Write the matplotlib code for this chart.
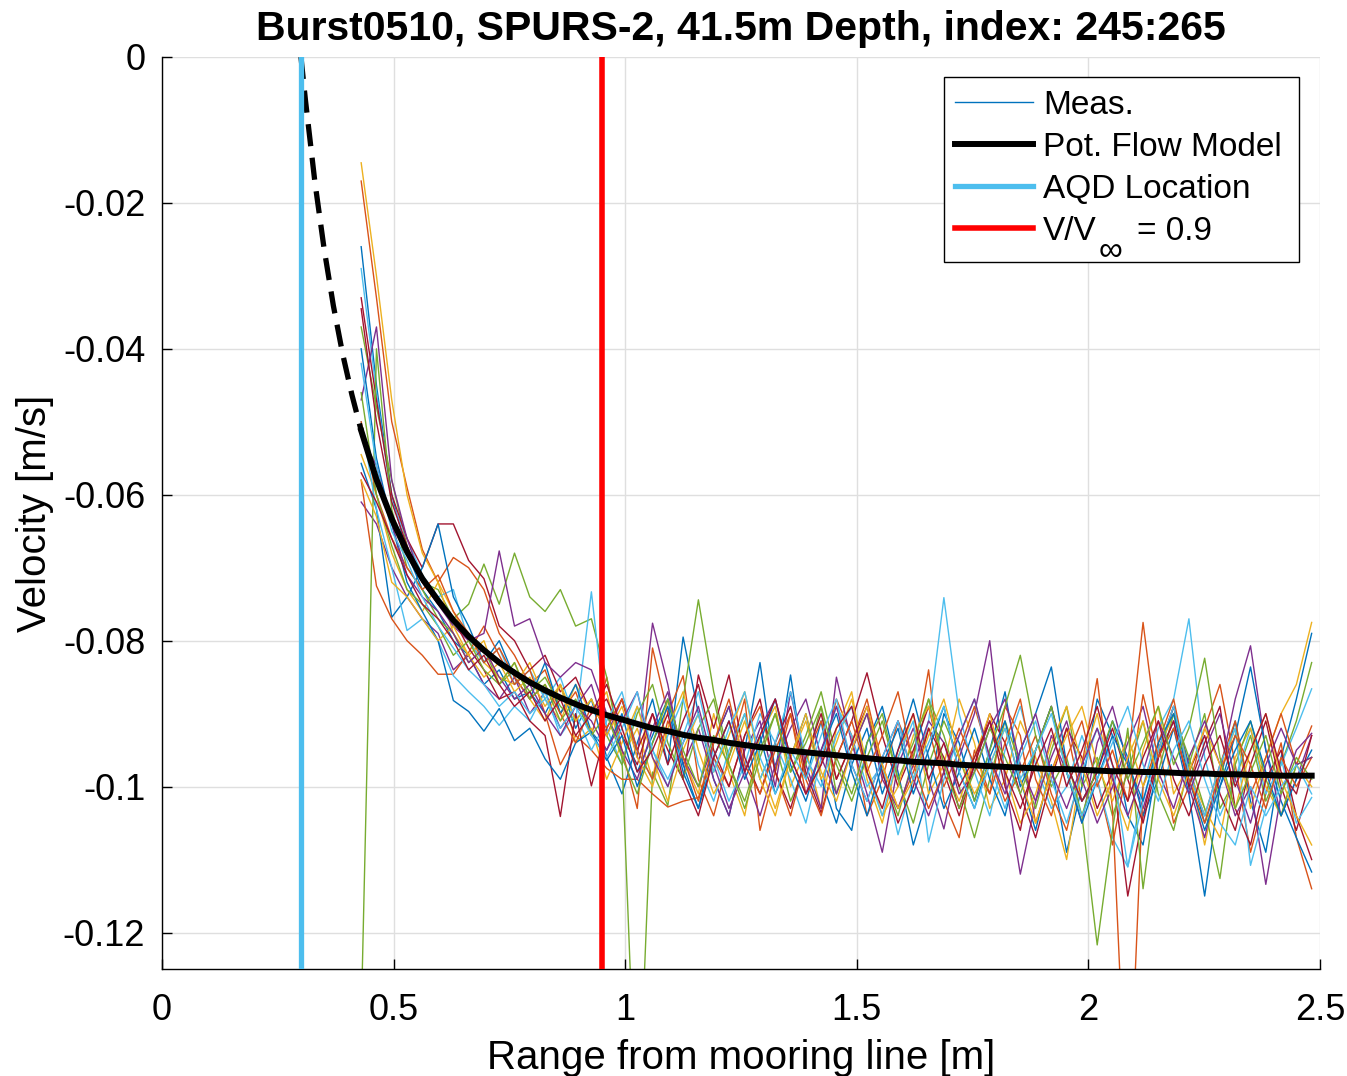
import numpy as np
import matplotlib
matplotlib.use("Agg")
import matplotlib.pyplot as plt
from matplotlib.patches import Rectangle

plt.rcParams["font.family"] = ["Liberation Sans", "DejaVu Sans"]
plt.rcParams["axes.unicode_minus"] = False

TITLE = "Burst0510, SPURS-2, 41.5m Depth, index: 245:265"

# range bins [m]
RANGE_M = [0.430, 0.463, 0.496, 0.529, 0.562, 0.596, 0.629, 0.662, 0.695, 0.728,
           0.761, 0.794, 0.827, 0.860, 0.893, 0.927, 0.960, 0.993, 1.026, 1.059,
           1.092, 1.125, 1.158, 1.191, 1.224, 1.258, 1.291, 1.324, 1.357, 1.390,
           1.423, 1.456, 1.489, 1.522, 1.555, 1.589, 1.622, 1.655, 1.688, 1.721,
           1.754, 1.787, 1.820, 1.853, 1.886, 1.920, 1.953, 1.986, 2.019, 2.052,
           2.085, 2.118, 2.151, 2.184, 2.217, 2.251, 2.284, 2.317, 2.350, 2.383,
           2.416, 2.449, 2.482]

MEAS_245 = [-26, -45, -60, -68, -73, -76, -80, -82, -86, -84,
            -88, -87, -90, -86, -92, -88, -96, -101, -94, -88,
            -97, -79.5, -90, -99, -104, -95, -83, -98, -84.7, -99,
            -91, -103, -106, -94, -89, -98, -108, -101, -90, -94,
            -102, -95, -87, -99, -106, -97, -109, -100, -88, -93,
            -104, -108, -96, -89, -97, -105, -99, -91, -102, -109,
            -96, -88, -79]
MEAS_246 = [-17, -33, -50, -59, -67.5, -72, -68.6, -70, -73, -79,
            -82, -86, -84, -90, -87, -93, -85, -95, -103, -81,
            -90, -84.8, -99, -104, -96, -88, -106, -98, -90, -101,
            -97, -88, -93, -104, -99, -91, -96, -84, -102, -107,
            -95, -101, -89, -93, -105, -98, -92, -102, -99, -108,
            -97, -77.5, -94, -105, -100, -92, -86, -97, -109, -101,
            -94, -107, -114]
MEAS_247 = [-14.5, -30, -47, -60, -68, -72, -76, -80, -83, -85,
            -86, -83, -88, -91, -86, -90, -87, -96, -92, -99,
            -88, -96, -101, -90, -98, -104, -93, -89, -100, -95,
            -103, -92, -87, -99, -105, -96, -90, -101, -97, -88,
            -94, -103, -99, -91, -96, -102, -110, -97, -90, -100,
            -106, -95, -89, -101, -97, -108, -98, -92, -103, -96,
            -90, -86, -77.5]
MEAS_248 = [-61, -64, -70, -74, -77, -79, -84, -82, -86, -88,
            -85, -90, -87, -92, -89, -86, -93, -88, -96, -77.6,
            -86, -97, -92, -99, -104, -95, -91, -100, -87, -97,
            -103, -85, -94, -101, -109, -97, -92, -99, -105.8, -96,
            -90, -80, -99, -112, -102, -93, -98, -105, -94, -89,
            -97, -103, -96, -91, -100, -107, -98, -88, -80.7, -95,
            -104, -99, -93]
MEAS_249 = [-37, -48, -58, -67, -72, -73, -77, -75, -69.5, -75,
            -68, -74, -76, -73, -78, -77, -85, -96, -150, -98,
            -102.6, -88, -74.4, -87, -96, -90, -99, -94, -102, -97,
            -89, -101, -95, -90, -98, -104, -96, -88, -93, -100,
            -107, -99, -91, -97, -103, -95, -89, -100, -96, -104,
            -98, -91, -101, -106, -97, -90, -103, -99, -93, -102,
            -97, -91, -83]
MEAS_250 = [-29, -46, -61, -66, -71, -74, -73, -80, -83, -81,
            -86, -84, -88, -85, -91, -73.3, -92, -97, -89, -95,
            -100, -93, -87, -96, -102, -97, -90, -94, -99, -105,
            -96, -89, -93, -100, -97, -106.6, -99, -91, -74.1, -90,
            -98, -104, -95, -89, -97, -103, -100, -93, -99, -107,
            -111, -100, -92, -88, -77, -96, -104, -99, -92, -101,
            -97, -92, -86.6]
MEAS_251 = [-33, -47, -60, -66, -70, -64, -64, -69, -71.5, -78,
            -80, -84, -82, -87, -85, -90, -88, -93, -97, -90,
            -95, -99, -84.7, -92, -84.7, -96, -101, -94, -89, -98,
            -103.6, -96, -91, -84.4, -93, -100, -95, -89, -98, -104,
            -97, -90, -94, -101, -107, -99, -92, -96, -103, -98,
            -115, -104, -95, -89, -98, -93, -101, -106, -97, -91,
            -100, -106, -98.5]
MEAS_252 = [-55.7, -62, -76.8, -74, -70, -64, -74, -78, -83, -80,
            -85, -88, -83, -90, -86, -92.5, -95, -90, -98, -93,
            -88, -97, -103, -94, -89, -98, -93, -101, -96, -90,
            -99, -105, -97, -92, -101, -95, -88, -96, -103, -98,
            -92, -99, -104, -95, -90, -83.6, -97, -102, -98, -91,
            -96, -104, -99, -92, -101, -115, -100, -93, -83.6, -95,
            -102, -107, -111.7]
MEAS_253 = [-58, -72.5, -77, -80, -82, -84.6, -84.6, -81.6, -78, -82,
            -86, -84, -90, -97, -93, -95, -97.5, -99, -99, -101,
            -102.8, -102, -101.5, -96, -100, -93, -89, -98, -104, -96,
            -91, -99, -94, -88, -97, -103, -98, -92, -100, -95,
            -89, -96, -102, -98, -93, -101, -106, -97, -85.2, -103,
            -150, -100, -94, -88, -98, -104, -97, -91, -101, -96,
            -90, -97, -91.7]
MEAS_254 = [-54.5, -60, -68, -73, -76, -72, -79, -82, -80, -86,
            -83, -88, -91, -86, -94, -92, -99, -94, -89, -96,
            -102, -95, -90, -98, -93, -87, -97, -103, -96, -91,
            -99, -94, -88, -97, -104, -100, -93, -89, -97, -102,
            -96, -90, -98, -105, -101, -94, -89, -97, -104, -99,
            -93, -100, -95, -90, -98, -103, -107, -96, -92, -100,
            -104, -97, -100]
MEAS_255 = [-47, -37, -58, -66, -72, -75, -78, -80, -79, -67.7,
            -78, -77, -83, -85, -83, -84, -90, -95, -99, -92,
            -87, -96, -100, -94, -89, -98, -104, -97, -92, -88,
            -96, -101, -95, -90, -99, -103, -97, -91, -94, -101,
            -98, -92, -88, -97, -102, -96, -91, -99, -105, -100,
            -94, -89, -98, -103, -96, -91, -97, -104, -100, -113.4,
            -101, -95, -92.7]
MEAS_256 = [-132, -40, -62, -70, -73, -77, -79, -83, -81, -86,
            -84, -87, -85, -89, -91, -88, -93, -97, -90, -86,
            -94, -99, -92, -88, -97, -102, -95, -90, -98, -93,
            -87, -96, -101, -94, -90, -99, -105, -97, -91, -96,
            -102, -95, -89, -82, -93, -100, -96, -104, -121.7, -106,
            -92, -114, -98, -90, -96, -103, -112.6, -97, -91, -99,
            -104, -97, -96]
MEAS_257 = [-50, -62, -70, -78.6, -77, -80, -84.8, -87, -89, -91.6,
            -89, -91, -87, -93, -90, -95, -91, -87, -95, -99,
            -93, -88, -97, -102, -95, -90, -99, -94, -87, -96,
            -100, -93, -89, -98, -104, -96, -91, -107.6, -99, -93,
            -88, -97, -103, -96, -91, -99, -105, -98, -92, -97,
            -111, -102, -95, -89, -98, -104, -97, -92, -110.8, -103,
            -96, -105, -101.5]
MEAS_258 = [-34.5, -50, -61, -67, -72, -75, -77, -81, -84, -88,
            -87, -91, -93, -104.1, -90, -99.9, -92, -88, -95, -90,
            -97, -91, -86, -95, -100, -93, -88, -98, -103, -96,
            -90, -99, -94, -89, -98, -105, -100, -92, -96, -103,
            -97, -91, -100, -106, -95, -89, -97, -102, -98, -92,
            -99, -105, -96, -91, -100, -94, -89, -103, -108, -99,
            -95, -104, -110]
MEAS_259 = [-40, -55, -64, -72, -76, -80, -88.2, -89.7, -92.4, -89.3,
            -93.7, -92, -96.2, -99, -94, -92.5, -96.4, -93, -100, -94,
            -89, -98, -103, -96, -91, -99, -94, -88, -97, -102,
            -95, -90, -98, -104, -97, -92, -101, -95, -89, -98,
            -103, -96, -91, -100, -95, -89, -98, -105, -99, -93,
            -97, -102, -94, -90, -99, -106, -100, -95, -91, -98,
            -104, -99, -95]
MEAS_260 = [-50, -60, -66, -70, -73, -71, -76, -79, -83, -81,
            -85, -88, -86, -90, -94, -89, -92, -88, -95, -99,
            -91, -96, -102, -94, -88, -97, -101, -95, -90, -99,
            -104, -96, -91, -98, -93, -87, -97, -103, -98, -92,
            -97, -101, -94, -88, -99, -104, -96, -91, -100, -95,
            -102, -87.4, -96, -92, -99, -105, -98, -93, -97, -103,
            -96, -100, -96]
MEAS_261 = [-58, -63, -72, -74, -77, -80, -78, -82, -85, -83,
            -87, -85, -89, -86, -91, -88, -93, -89, -96, -100,
            -92, -87, -95, -101, -97, -91, -99, -104, -96, -90,
            -98, -102, -95, -89, -97, -103, -99, -93, -88, -96,
            -101, -97, -92, -99, -105, -98, -93, -89, -97, -102,
            -96, -91, -99, -104, -98, -92, -97, -103, -95, -90,
            -99, -104, -108]
MEAS_262 = [-52, -56, -64, -71, -74, -76, -79, -83, -81, -85,
            -88, -86, -90, -93, -89, -91, -95, -91, -87, -96,
            -100, -94, -89, -97, -103, -98, -92, -88, -96, -101,
            -95, -89, -97, -102, -96, -91, -99, -104, -98, -93,
            -88, -96, -101, -95, -90, -98, -103, -97, -92, -99,
            -104, -98, -91, -96, -101, -95, -90, -99, -105, -97,
            -92, -97, -96]
MEAS_263 = [-46, -60, -67, -73, -75, -78, -82, -80, -84, -86,
            -83, -88, -86, -91, -88, -93, -90, -96, -101, -94,
            -88, -95, -100, -93, -97, -103, -96, -90, -98, -94,
            -89, -97, -102, -96, -91, -99, -94, -88, -97, -103,
            -98, -92, -96, -101, -95, -89, -98, -104, -97, -91,
            -99, -94, -89, -97, -92, -82.4, -96, -103, -98, -93,
            -101, -96, -99]
MEAS_264 = [-42, -56, -65, -69, -74, -78, -81, -84, -86, -89,
            -87, -90, -88, -92, -89, -93, -96, -92, -87, -95,
            -99, -94, -90, -98, -92, -87, -96, -101, -95, -99,
            -93, -88, -97, -102, -96, -91, -99, -94, -89, -98,
            -103, -97, -92, -99, -95, -90, -98, -104, -99, -94,
            -89, -97, -102, -95, -91, -99, -105, -108, -100, -104,
            -100, -97, -101]
MEAS_265 = [-57, -61, -66, -71, -75, -77, -80, -84, -82, -86,
            -89, -87, -91, -88, -93, -90, -86, -92, -98, -95,
            -90, -99, -104, -96, -91, -98, -93, -88, -96, -101,
            -97, -92, -89, -98, -103, -95, -90, -99, -94, -100,
            -96, -91, -98, -103, -97, -92, -100, -95, -89, -97,
            -102, -96, -91, -99, -104, -97, -93, -100, -95, -90,
            -98, -101, -93]

MEAS = [MEAS_245, MEAS_246, MEAS_247, MEAS_248, MEAS_249, MEAS_250, MEAS_251,
        MEAS_252, MEAS_253, MEAS_254, MEAS_255, MEAS_256, MEAS_257, MEAS_258,
        MEAS_259, MEAS_260, MEAS_261, MEAS_262, MEAS_263, MEAS_264, MEAS_265]

# potential flow model at the range bins, mm/s
MODEL_MM = [-51.2, -57.9, -63.3, -67.8, -71.5, -74.5, -77.2, -79.4, -81.3, -83.0,
            -84.4, -85.7, -86.8, -87.8, -88.7, -89.5, -90.2, -90.8, -91.4, -92.0,
            -92.4, -92.9, -93.3, -93.6, -94.0, -94.3, -94.6, -94.8, -95.1, -95.3,
            -95.5, -95.7, -95.9, -96.1, -96.3, -96.4, -96.6, -96.7, -96.8, -97.0,
            -97.1, -97.2, -97.3, -97.4, -97.5, -97.6, -97.6, -97.7, -97.8, -97.9,
            -97.9, -98.0, -98.0, -98.1, -98.2, -98.2, -98.3, -98.3, -98.4, -98.4,
            -98.5, -98.5, -98.5]

# model extrapolated inside the first bin (dashed)
MODEL_EXT_RANGE = [0.300, 0.310, 0.330, 0.350, 0.370, 0.390, 0.410, 0.430]
MODEL_EXT_MM = [0.0, -6.1, -17.1, -26.3, -34.1, -40.7, -46.3, -51.2]

AQD_RANGE = 0.30
V90_RANGE = 0.95

MATLAB_COLORS = ["#0072BD", "#D95319", "#EDB120", "#7E2F8E",
                 "#77AC30", "#4DBEEE", "#A2142F"]

XTICKS = [0, 0.5, 1, 1.5, 2, 2.5]
XTICK_LABELS = ["0", "0.5", "1", "1.5", "2", "2.5"]
YTICKS = [0, -0.02, -0.04, -0.06, -0.08, -0.1, -0.12]
YTICK_LABELS = ["0", "-0.02", "-0.04", "-0.06", "-0.08", "-0.1", "-0.12"]

W, H = 1347, 1076


def main():
    fig = plt.figure(figsize=(W / 100, H / 100), dpi=100)
    ax = fig.add_axes([162 / W, 1 - 969 / H, (1320 - 162) / W, (969 - 57) / H])

    r = np.array(RANGE_M)
    for k, prof in enumerate(MEAS):
        ax.plot(r, np.array(prof) / 1000.0, color=MATLAB_COLORS[k % 7], lw=1.0,
                label="Meas." if k == 0 else None, zorder=2)

    ax.plot(r, np.array(MODEL_MM) / 1000.0, color="black", lw=4.3,
            label="Pot. Flow Model", zorder=3)
    ax.plot(MODEL_EXT_RANGE, np.array(MODEL_EXT_MM) / 1000.0, color="black", lw=3.8,
            ls=(0, (4.2, 2.2)), zorder=3)
    ax.axvline(AQD_RANGE, color="#4DBEEE", lw=3.8, label="AQD Location", zorder=4)
    ax.axvline(V90_RANGE, color="red", lw=4.0, label="V/V", zorder=4)

    ax.set_xlim(0, 2.5)
    ax.set_ylim(-0.125, 0)
    ax.set_xticks(XTICKS)
    ax.set_xticklabels(XTICK_LABELS)
    ax.set_yticks(YTICKS)
    ax.set_yticklabels(YTICK_LABELS)
    ax.tick_params(axis="both", direction="in", length=7, width=1.0, labelsize=26,
                   top=False, right=False)
    ax.tick_params(axis="x", pad=17)
    ax.tick_params(axis="y", pad=12)
    ax.grid(True, color="#dfdfdf", lw=1.0, zorder=0)
    ax.set_axisbelow(True)
    for s in ("top", "right"):
        ax.spines[s].set_visible(False)
    for s in ("left", "bottom"):
        ax.spines[s].set_linewidth(1.0)

    ax.set_xlabel("Range from mooring line [m]", fontsize=29, labelpad=8)
    ax.set_ylabel("Velocity [m/s]", fontsize=29, labelpad=6)
    ax.set_title(TITLE, fontsize=29.5, fontweight="bold", pad=12)

    # legend box drawn separately so the deep subscript row fits like the original
    box = Rectangle((944 / W, 1 - 262 / H), (1299 - 944) / W, (262 - 77) / H,
                    transform=fig.transFigure, facecolor="white", edgecolor="black",
                    lw=1.0, zorder=4.5)
    ax.add_patch(box)
    box.set_clip_on(False)

    leg = ax.legend(loc="upper left", bbox_to_anchor=(955 / W, 1 - 90 / H),
                    bbox_transform=fig.transFigure, fontsize=24, frameon=False,
                    borderaxespad=0, borderpad=0, handlelength=2.35,
                    handletextpad=0.3, labelspacing=0.33)
    leg.set_zorder(5)

    # subscript infinity and "= 0.9" of the last legend entry
    fig.canvas.draw()
    renderer = fig.canvas.get_renderer()
    bb = leg.get_texts()[3].get_window_extent(renderer)
    fig.text((bb.x1 + 2) / W, (bb.y0 + bb.height / 2 - 20) / H, "\u221e",
             fontsize=24, ha="left", va="center", zorder=6)
    fig.text((bb.x1 + 40) / W, bb.y0 / H, "= 0.9",
             fontsize=24, ha="left", va="bottom", zorder=6)

    fig.savefig("out.png", dpi=100)


if __name__ == "__main__":
    main()
